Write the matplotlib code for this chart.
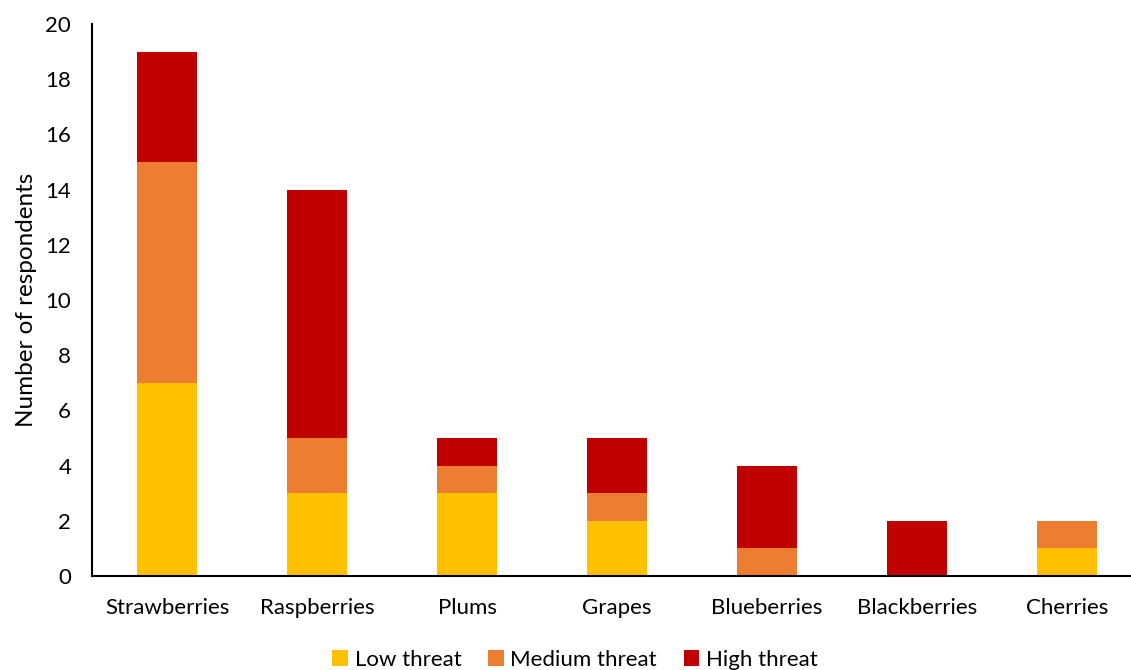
import numpy as np
import matplotlib.pyplot as plt

plt.rcParams['font.family'] = ['Lato', 'DejaVu Sans']

categories = ['Strawberries', 'Raspberries', 'Plums', 'Grapes',
              'Blueberries', 'Blackberries', 'Cherries']
low_threat = [7, 3, 3, 2, 0, 0, 1]
medium_threat = [8, 2, 1, 1, 1, 0, 1]
high_threat = [4, 9, 1, 2, 3, 2, 0]

series = [
    ('Low threat', low_threat, '#FFC000'),
    ('Medium threat', medium_threat, '#ED7D31'),
    ('High threat', high_threat, '#C00000'),
]

fig = plt.figure(figsize=(11.31, 6.70), dpi=100)
ax = fig.add_axes([92 / 1131, 1 - 576 / 670, 1050 / 1131, 552 / 670])

x = np.arange(len(categories))
bottom = np.zeros(len(categories))
for name, vals, color in series:
    ax.bar(x, vals, width=0.4, bottom=bottom, color=color, label=name)
    bottom += np.array(vals)

ax.set_xlim(-0.5, len(categories) - 0.5)
ax.set_ylim(0, 20)
ax.set_yticks(range(0, 21, 2))
ax.set_xticks(x)
ax.set_xticklabels(categories)
ax.tick_params(axis='both', length=0, labelsize=16, colors='black')
ax.tick_params(axis='x', pad=16)
ax.tick_params(axis='y', pad=15)
ax.set_ylabel('Number of respondents', fontsize=17.5, labelpad=6)

for side in ['top', 'right']:
    ax.spines[side].set_visible(False)
for side in ['left', 'bottom']:
    ax.spines[side].set_linewidth(1.5)
    ax.spines[side].set_color('black')

fig.legend(loc='center', bbox_to_anchor=(575 / 1131, 1 - 660 / 670), ncol=3,
           frameon=False, fontsize=16, handlelength=0.7, handleheight=0.7,
           handletextpad=0.3, columnspacing=1.2)

fig.savefig('out.png', dpi=100)
